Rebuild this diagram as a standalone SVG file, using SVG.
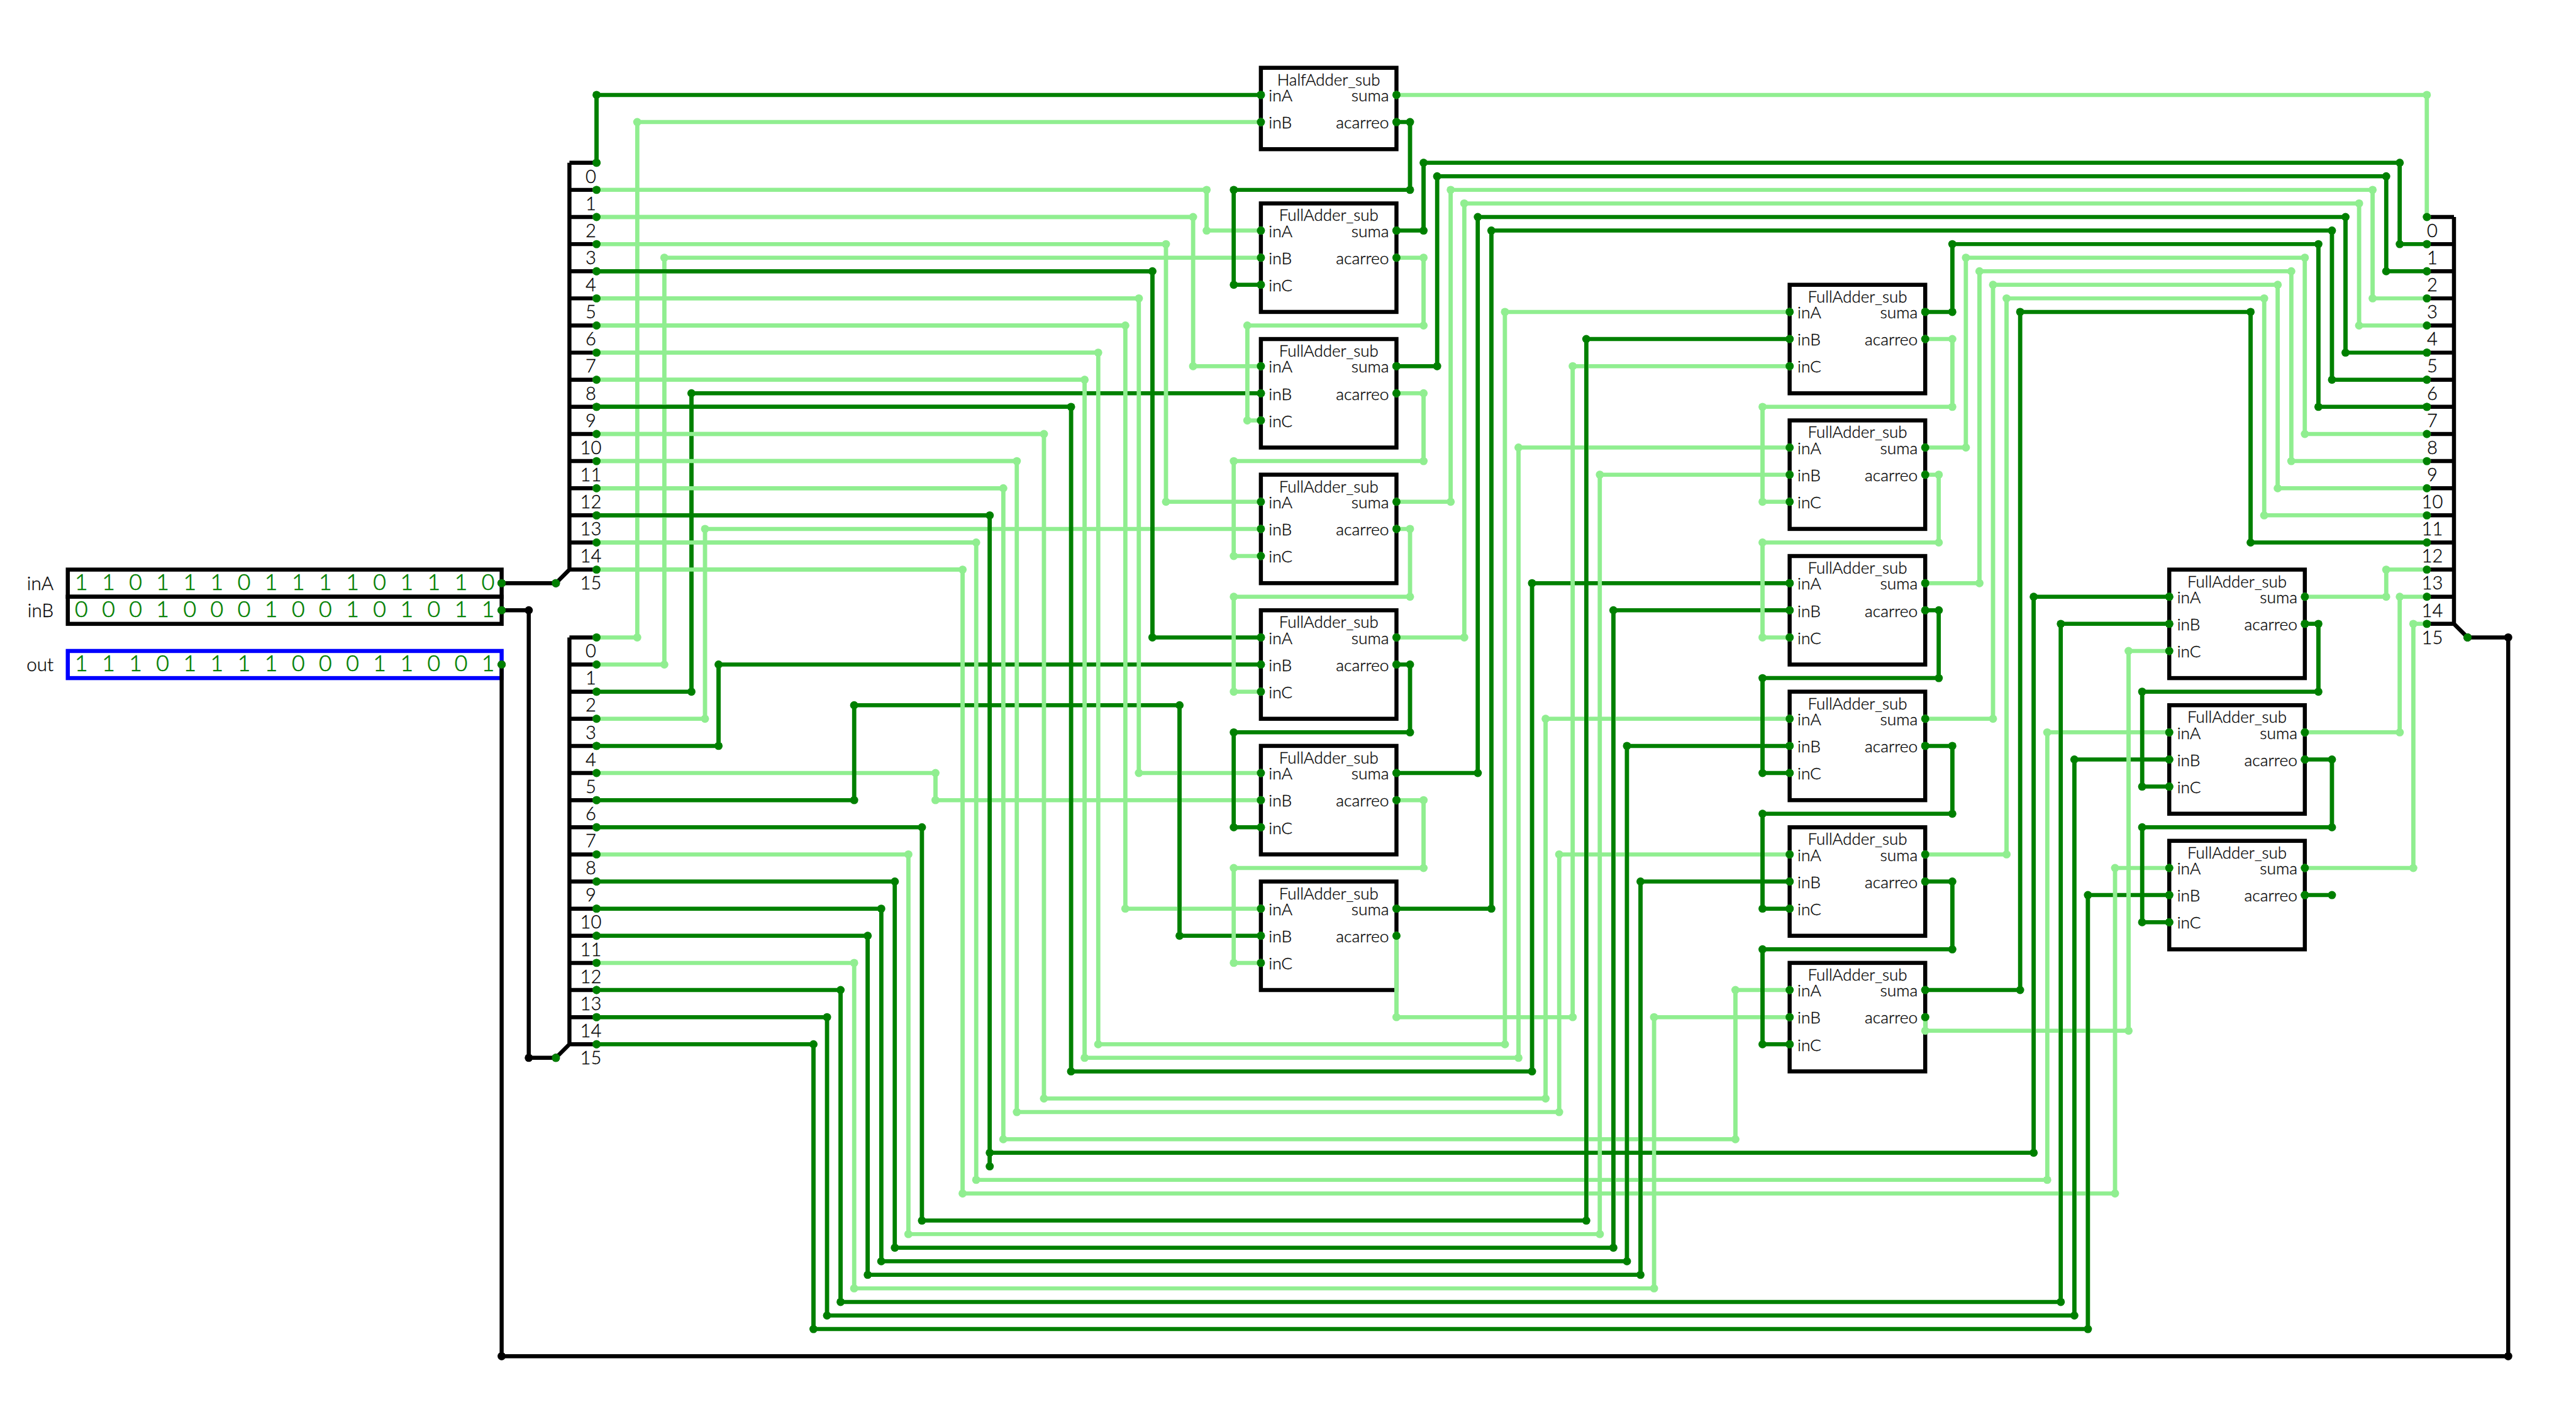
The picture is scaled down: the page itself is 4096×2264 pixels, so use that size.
<svg xmlns="http://www.w3.org/2000/svg" width="4096" height="2264" viewBox="0 0 4096 2264">
<style>
.bg{fill:#fff}
.box{fill:#fff;stroke:#000;stroke-width:12}
.blue{fill:#fff;stroke:#00f;stroke-width:12}
.sp{fill:none;stroke:#000;stroke-width:12}
.t{font-family:"Lato","Open Sans",sans-serif;font-weight:300;fill:#000;stroke:#000;stroke-width:.6px;font-size:49px}
.h{text-anchor:middle;font-size:48px}
.r{text-anchor:end}
.big{font-size:55px}
.n{text-anchor:middle;font-size:54px}
.v{font-family:"Lato","Open Sans",sans-serif;font-weight:300;fill:#008000;stroke:#008000;stroke-width:1.2px;font-size:66px;text-anchor:middle}
.w{fill:none;stroke-width:12}
.d{stroke:#008000;marker-start:url(#md);marker-mid:url(#md);marker-end:url(#md)}
.l{stroke:#90ee90;marker-start:url(#ml);marker-mid:url(#ml);marker-end:url(#ml)}
.k{stroke:#000;marker-start:url(#mk);marker-mid:url(#mk);marker-end:url(#mk)}
.od{fill:none;stroke-width:12;stroke:#008000}
.ol{fill:none;stroke-width:12;stroke:#90ee90}
.p{fill:#008000}
</style>
<defs>
<marker id="md" markerUnits="userSpaceOnUse" markerWidth="24" markerHeight="24" refX="12" refY="12" overflow="visible"><circle cx="12" cy="12" r="12" fill="#008000"/></marker>
<marker id="ml" markerUnits="userSpaceOnUse" markerWidth="24" markerHeight="24" refX="12" refY="12" overflow="visible"><circle cx="12" cy="12" r="12" fill="#90ee90"/></marker>
<marker id="mk" markerUnits="userSpaceOnUse" markerWidth="24" markerHeight="24" refX="12" refY="12" overflow="visible"><circle cx="12" cy="12" r="12" fill="#000"/></marker>
</defs>
<rect class="bg" width="4096" height="2264"/>
<g transform="scale(0.538947,0.539048)">
<g id="reg_inA"><rect class="box" x="200" y="1680" width="1280" height="80"/><text class="t big r" x="158" y="1740">inA</text><text class="v" x="240 320 400 480 560 640 720 800 880 960 1040 1120 1200 1280 1360 1440" y="1740">1101110111101110</text></g>
<g id="reg_inB"><rect class="box" x="200" y="1760" width="1280" height="80"/><text class="t big r" x="158" y="1820">inB</text><text class="v" x="240 320 400 480 560 640 720 800 880 960 1040 1120 1200 1280 1360 1440" y="1820">0001000100101011</text></g>
<g id="reg_out"><rect class="blue" x="200" y="1920" width="1280" height="80"/><text class="t big r" x="158" y="1980">out</text><text class="v" x="240 320 400 480 560 640 720 800 880 960 1040 1120 1200 1280 1360 1440" y="1980">1110111100011001</text></g>
<g id="split_A"><path class="sp" d="M1680 480H1760M1680 560H1760M1680 640H1760M1680 720H1760M1680 800H1760M1680 880H1760M1680 960H1760M1680 1040H1760M1680 1120H1760M1680 1200H1760M1680 1280H1760M1680 1360H1760M1680 1440H1760M1680 1520H1760M1680 1600H1760M1680 1680H1760M1680 480V1680L1640 1720"/>
<text class="t n" x="1743" y="539">0</text><text class="t n" x="1743" y="619">1</text><text class="t n" x="1743" y="699">2</text><text class="t n" x="1743" y="779">3</text><text class="t n" x="1743" y="859">4</text><text class="t n" x="1743" y="939">5</text><text class="t n" x="1743" y="1019">6</text><text class="t n" x="1743" y="1099">7</text><text class="t n" x="1743" y="1179">8</text><text class="t n" x="1743" y="1259">9</text><text class="t n" x="1743" y="1339">10</text><text class="t n" x="1743" y="1419">11</text><text class="t n" x="1743" y="1499">12</text><text class="t n" x="1743" y="1579">13</text><text class="t n" x="1743" y="1659">14</text><text class="t n" x="1743" y="1739">15</text></g>
<g id="split_B"><path class="sp" d="M1680 1880H1760M1680 1960H1760M1680 2040H1760M1680 2120H1760M1680 2200H1760M1680 2280H1760M1680 2360H1760M1680 2440H1760M1680 2520H1760M1680 2600H1760M1680 2680H1760M1680 2760H1760M1680 2840H1760M1680 2920H1760M1680 3000H1760M1680 3080H1760M1680 1880V3080L1640 3120"/>
<text class="t n" x="1743" y="1939">0</text><text class="t n" x="1743" y="2019">1</text><text class="t n" x="1743" y="2099">2</text><text class="t n" x="1743" y="2179">3</text><text class="t n" x="1743" y="2259">4</text><text class="t n" x="1743" y="2339">5</text><text class="t n" x="1743" y="2419">6</text><text class="t n" x="1743" y="2499">7</text><text class="t n" x="1743" y="2579">8</text><text class="t n" x="1743" y="2659">9</text><text class="t n" x="1743" y="2739">10</text><text class="t n" x="1743" y="2819">11</text><text class="t n" x="1743" y="2899">12</text><text class="t n" x="1743" y="2979">13</text><text class="t n" x="1743" y="3059">14</text><text class="t n" x="1743" y="3139">15</text></g>
<g id="split_out"><path class="sp" d="M7160 640H7240M7160 720H7240M7160 800H7240M7160 880H7240M7160 960H7240M7160 1040H7240M7160 1120H7240M7160 1200H7240M7160 1280H7240M7160 1360H7240M7160 1440H7240M7160 1520H7240M7160 1600H7240M7160 1680H7240M7160 1760H7240M7160 1840H7240M7240 640V1840L7280 1880"/>
<text class="t n" x="7176" y="699">0</text><text class="t n" x="7176" y="779">1</text><text class="t n" x="7176" y="859">2</text><text class="t n" x="7176" y="939">3</text><text class="t n" x="7176" y="1019">4</text><text class="t n" x="7176" y="1099">5</text><text class="t n" x="7176" y="1179">6</text><text class="t n" x="7176" y="1259">7</text><text class="t n" x="7176" y="1339">8</text><text class="t n" x="7176" y="1419">9</text><text class="t n" x="7176" y="1499">10</text><text class="t n" x="7176" y="1579">11</text><text class="t n" x="7176" y="1659">12</text><text class="t n" x="7176" y="1739">13</text><text class="t n" x="7176" y="1819">14</text><text class="t n" x="7176" y="1899">15</text></g>

<g id="ha0" transform="translate(3720,200)"><rect class="box" width="400" height="240"/><text class="t h" x="200" y="52">HalfAdder_sub</text><text class="t" x="23" y="99">inA</text><text class="t" x="23" y="179">inB</text><text class="t r" x="378" y="99">suma</text><text class="t r" x="378" y="179">acarreo</text></g>
<g id="fa1" transform="translate(3720,600)"><rect class="box" width="400" height="320"/><text class="t h" x="200" y="52">FullAdder_sub</text><text class="t" x="23" y="99">inA</text><text class="t" x="23" y="179">inB</text><text class="t" x="23" y="259">inC</text><text class="t r" x="378" y="99">suma</text><text class="t r" x="378" y="179">acarreo</text></g>
<g id="fa2" transform="translate(3720,1000)"><rect class="box" width="400" height="320"/><text class="t h" x="200" y="52">FullAdder_sub</text><text class="t" x="23" y="99">inA</text><text class="t" x="23" y="179">inB</text><text class="t" x="23" y="259">inC</text><text class="t r" x="378" y="99">suma</text><text class="t r" x="378" y="179">acarreo</text></g>
<g id="fa3" transform="translate(3720,1400)"><rect class="box" width="400" height="320"/><text class="t h" x="200" y="52">FullAdder_sub</text><text class="t" x="23" y="99">inA</text><text class="t" x="23" y="179">inB</text><text class="t" x="23" y="259">inC</text><text class="t r" x="378" y="99">suma</text><text class="t r" x="378" y="179">acarreo</text></g>
<g id="fa4" transform="translate(3720,1800)"><rect class="box" width="400" height="320"/><text class="t h" x="200" y="52">FullAdder_sub</text><text class="t" x="23" y="99">inA</text><text class="t" x="23" y="179">inB</text><text class="t" x="23" y="259">inC</text><text class="t r" x="378" y="99">suma</text><text class="t r" x="378" y="179">acarreo</text></g>
<g id="fa5" transform="translate(3720,2200)"><rect class="box" width="400" height="320"/><text class="t h" x="200" y="52">FullAdder_sub</text><text class="t" x="23" y="99">inA</text><text class="t" x="23" y="179">inB</text><text class="t" x="23" y="259">inC</text><text class="t r" x="378" y="99">suma</text><text class="t r" x="378" y="179">acarreo</text></g>
<g id="fa6" transform="translate(3720,2600)"><rect class="box" width="400" height="320"/><text class="t h" x="200" y="52">FullAdder_sub</text><text class="t" x="23" y="99">inA</text><text class="t" x="23" y="179">inB</text><text class="t" x="23" y="259">inC</text><text class="t r" x="378" y="99">suma</text><text class="t r" x="378" y="179">acarreo</text></g>
<g id="fa7" transform="translate(5280,840)"><rect class="box" width="400" height="320"/><text class="t h" x="200" y="52">FullAdder_sub</text><text class="t" x="23" y="99">inA</text><text class="t" x="23" y="179">inB</text><text class="t" x="23" y="259">inC</text><text class="t r" x="378" y="99">suma</text><text class="t r" x="378" y="179">acarreo</text></g>
<g id="fa8" transform="translate(5280,1240)"><rect class="box" width="400" height="320"/><text class="t h" x="200" y="52">FullAdder_sub</text><text class="t" x="23" y="99">inA</text><text class="t" x="23" y="179">inB</text><text class="t" x="23" y="259">inC</text><text class="t r" x="378" y="99">suma</text><text class="t r" x="378" y="179">acarreo</text></g>
<g id="fa9" transform="translate(5280,1640)"><rect class="box" width="400" height="320"/><text class="t h" x="200" y="52">FullAdder_sub</text><text class="t" x="23" y="99">inA</text><text class="t" x="23" y="179">inB</text><text class="t" x="23" y="259">inC</text><text class="t r" x="378" y="99">suma</text><text class="t r" x="378" y="179">acarreo</text></g>
<g id="fa10" transform="translate(5280,2040)"><rect class="box" width="400" height="320"/><text class="t h" x="200" y="52">FullAdder_sub</text><text class="t" x="23" y="99">inA</text><text class="t" x="23" y="179">inB</text><text class="t" x="23" y="259">inC</text><text class="t r" x="378" y="99">suma</text><text class="t r" x="378" y="179">acarreo</text></g>
<g id="fa11" transform="translate(5280,2440)"><rect class="box" width="400" height="320"/><text class="t h" x="200" y="52">FullAdder_sub</text><text class="t" x="23" y="99">inA</text><text class="t" x="23" y="179">inB</text><text class="t" x="23" y="259">inC</text><text class="t r" x="378" y="99">suma</text><text class="t r" x="378" y="179">acarreo</text></g>
<g id="fa12" transform="translate(5280,2840)"><rect class="box" width="400" height="320"/><text class="t h" x="200" y="52">FullAdder_sub</text><text class="t" x="23" y="99">inA</text><text class="t" x="23" y="179">inB</text><text class="t" x="23" y="259">inC</text><text class="t r" x="378" y="99">suma</text><text class="t r" x="378" y="179">acarreo</text></g>
<g id="fa13" transform="translate(6400,1680)"><rect class="box" width="400" height="320"/><text class="t h" x="200" y="52">FullAdder_sub</text><text class="t" x="23" y="99">inA</text><text class="t" x="23" y="179">inB</text><text class="t" x="23" y="259">inC</text><text class="t r" x="378" y="99">suma</text><text class="t r" x="378" y="179">acarreo</text></g>
<g id="fa14" transform="translate(6400,2080)"><rect class="box" width="400" height="320"/><text class="t h" x="200" y="52">FullAdder_sub</text><text class="t" x="23" y="99">inA</text><text class="t" x="23" y="179">inB</text><text class="t" x="23" y="259">inC</text><text class="t r" x="378" y="99">suma</text><text class="t r" x="378" y="179">acarreo</text></g>
<g id="fa15" transform="translate(6400,2480)"><rect class="box" width="400" height="320"/><text class="t h" x="200" y="52">FullAdder_sub</text><text class="t" x="23" y="99">inA</text><text class="t" x="23" y="179">inB</text><text class="t" x="23" y="259">inC</text><text class="t r" x="378" y="99">suma</text><text class="t r" x="378" y="179">acarreo</text></g>

<g id="connectors">
<polyline class="w k" points="1480,1720 1640,1720"/>
<polyline class="w k" points="1480,1800 1560,1800 1560,3120 1640,3120"/>
<polyline class="w k" points="7280,1880 7400,1880 7400,4000 1480,4000 1480,1960"/>
<polyline class="w l" points="1760,1880 1880,1880 1880,360 3720,360"/>
<polyline class="w l" points="1760,1960 1960,1960 1960,760 3720,760"/>
<polyline class="w d" points="1760,2040 2040,2040 2040,1160 3720,1160"/>
<polyline class="w l" points="1760,2120 2080,2120 2080,1560 3720,1560"/>
<polyline class="w d" points="1760,2200 2120,2200 2120,1960 3720,1960"/>
<polyline class="w l" points="1760,2280 2760,2280 2760,2360 3720,2360"/>
<polyline class="w d" points="1760,2360 2520,2360 2520,2080 3480,2080 3480,2760 3720,2760"/>
<polyline class="w d" points="1760,2440 2720,2440 2720,3600 4680,3600 4680,1000 5280,1000"/>
<polyline class="w l" points="1760,2520 2680,2520 2680,3640 4720,3640 4720,1400 5280,1400"/>
<polyline class="w d" points="1760,2600 2640,2600 2640,3680 4760,3680 4760,1800 5280,1800"/>
<polyline class="w d" points="1760,2680 2600,2680 2600,3720 4800,3720 4800,2200 5280,2200"/>
<polyline class="w d" points="1760,2760 2560,2760 2560,3760 4840,3760 4840,2600 5280,2600"/>
<polyline class="w l" points="1760,2840 2520,2840 2520,3800 4880,3800 4880,3000 5280,3000"/>
<polyline class="w d" points="1760,2920 2480,2920 2480,3840 6080,3840 6080,1840 6400,1840"/>
<polyline class="w d" points="1760,3000 2440,3000 2440,3880 6120,3880 6120,2240 6400,2240"/>
<polyline class="w d" points="1760,3080 2400,3080 2400,3920 6160,3920 6160,2640 6400,2640"/>
<polyline class="w d" points="1760,480 1760,280 3720,280"/>
<polyline class="w l" points="1760,560 3560,560 3560,680 3720,680"/>
<polyline class="w l" points="1760,640 3520,640 3520,1080 3720,1080"/>
<polyline class="w l" points="1760,720 3440,720 3440,1480 3720,1480"/>
<polyline class="w d" points="1760,800 3400,800 3400,1880 3720,1880"/>
<polyline class="w l" points="1760,880 3360,880 3360,2280 3720,2280"/>
<polyline class="w l" points="1760,960 3320,960 3320,2680 3720,2680"/>
<polyline class="w l" points="1760,1040 3240,1040 3240,3080 4440,3080 4440,920 5280,920"/>
<polyline class="w l" points="1760,1120 3200,1120 3200,3120 4480,3120 4480,1320 5280,1320"/>
<polyline class="w d" points="1760,1200 3160,1200 3160,3160 4520,3160 4520,1720 5280,1720"/>
<polyline class="w l" points="1760,1280 3080,1280 3080,3240 4560,3240 4560,2120 5280,2120"/>
<polyline class="w l" points="1760,1360 3000,1360 3000,3280 4600,3280 4600,2520 5280,2520"/>
<polyline class="w l" points="1760,1440 2960,1440 2960,3360 5120,3360 5120,2920 5280,2920"/>
<polyline class="w d" points="1760,1520 2920,1520 2920,3440"/>
<polyline class="w d" points="2920,3400 6000,3400 6000,1760 6400,1760"/>
<polyline class="w l" points="1760,1600 2880,1600 2880,3480 6040,3480 6040,2160 6400,2160"/>
<polyline class="w l" points="1760,1680 2840,1680 2840,3520 6240,3520 6240,2560 6400,2560"/>
<polyline class="w l" points="4120,280 7160,280 7160,640"/>
<polyline class="w d" points="4120,360 4160,360 4160,560 3640,560 3640,840 3720,840"/>
<polyline class="w d" points="4120,680 4200,680 4200,480 7080,480 7080,720 7160,720"/>
<polyline class="w l" points="4120,760 4200,760 4200,960 3680,960 3680,1240 3720,1240"/>
<polyline class="w d" points="4120,1080 4240,1080 4240,520 7040,520 7040,800 7160,800"/>
<polyline class="w l" points="4120,1160 4200,1160 4200,1360 3640,1360 3640,1640 3720,1640"/>
<polyline class="w l" points="4120,1480 4280,1480 4280,560 7000,560 7000,880 7160,880"/>
<polyline class="w l" points="4120,1560 4160,1560 4160,1760 3640,1760 3640,2040 3720,2040"/>
<polyline class="w l" points="4120,1880 4320,1880 4320,600 6960,600 6960,960 7160,960"/>
<polyline class="w d" points="4120,1960 4160,1960 4160,2160 3640,2160 3640,2440 3720,2440"/>
<polyline class="w d" points="4120,2280 4360,2280 4360,640 6920,640 6920,1040 7160,1040"/>
<polyline class="w l" points="4120,2360 4200,2360 4200,2560 3640,2560 3640,2840 3720,2840"/>
<polyline class="w d" points="4120,2680 4400,2680 4400,680 6880,680 6880,1120 7160,1120"/>
<polyline class="w l" points="4120,2760 4120,3000 4640,3000 4640,1080 5280,1080"/>
<polyline class="w d" points="5680,920 5760,920 5760,720 6840,720 6840,1200 7160,1200"/>
<polyline class="w l" points="5680,1000 5760,1000 5760,1200 5200,1200 5200,1480 5280,1480"/>
<polyline class="w l" points="5680,1320 5800,1320 5800,760 6800,760 6800,1280 7160,1280"/>
<polyline class="w l" points="5680,1400 5720,1400 5720,1600 5200,1600 5200,1880 5280,1880"/>
<polyline class="w l" points="5680,1720 5840,1720 5840,800 6760,800 6760,1360 7160,1360"/>
<polyline class="w d" points="5680,1800 5720,1800 5720,2000 5200,2000 5200,2280 5280,2280"/>
<polyline class="w l" points="5680,2120 5880,2120 5880,840 6720,840 6720,1440 7160,1440"/>
<polyline class="w d" points="5680,2200 5760,2200 5760,2400 5200,2400 5200,2680 5280,2680"/>
<polyline class="w l" points="5680,2520 5920,2520 5920,880 6680,880 6680,1520 7160,1520"/>
<polyline class="w d" points="5680,2600 5760,2600 5760,2800 5200,2800 5200,3080 5280,3080"/>
<polyline class="w d" points="5680,2920 5960,2920 5960,920 6640,920 6640,1600 7160,1600"/>
<polyline class="w l" points="5680,3000 5680,3040 6280,3040 6280,1920 6400,1920"/>
<polyline class="w l" points="6800,1760 7040,1760 7040,1680 7160,1680"/>
<polyline class="w d" points="6800,1840 6840,1840 6840,2040 6320,2040 6320,2320 6400,2320"/>
<polyline class="w l" points="6800,2160 7080,2160 7080,1760 7160,1760"/>
<polyline class="w d" points="6800,2240 6880,2240 6880,2440 6320,2440 6320,2720 6400,2720"/>
<polyline class="w l" points="6800,2560 7120,2560 7120,1840 7160,1840"/>
<polyline class="w d" points="6800,2640 6880,2640"/>
<path class="ol" d="M1880 360V1880M1960 760V1960M2080 1560V2120M2760 2280V2360M2680 2520V3640M4720 1400V3640M2520 2840V3800M4880 3000V3800M3560 560V680M3520 640V1080M3440 720V1480M3360 880V2280M3320 960V2680M3240 1040V3080M4440 920V3080M3200 1120V3120M4480 1320V3120M3080 1280V3240M4560 2120V3240M3000 1360V3280M4600 2520V3280M2960 1440V3360M5120 2920V3360M2880 1600V3480M6040 2160V3480M2840 1680V3520M6240 2560V3520M7160 280V640M3680 960V1240M4200 760V960M3640 1360V1640M4200 1160V1360M4280 560V1480M7000 560V880M3640 1760V2040M4160 1560V1760M4320 600V1880M6960 600V960M3640 2560V2840M4200 2360V2560M4120 2760V3000M4640 1080V3000M5760 1000V1200M5200 1200V1480M5800 760V1320M6800 760V1280M5720 1400V1600M5200 1600V1880M5840 800V1720M6760 800V1360M5880 840V2120M6720 840V1440M5920 880V2520M6680 880V1520M5680 3000V3040M6280 1920V3040M7040 1680V1760M7080 1760V2160M7120 1840V2560"/>
<path class="od" d="M2040 1160V2040M2120 1960V2200M2520 2080V2360M3480 2080V2760M2720 2440V3600M4680 1000V3600M2640 2600V3680M4760 1800V3680M2600 2680V3720M4800 2200V3720M2560 2760V3760M4840 2600V3760M2480 2920V3840M6080 1840V3840M2440 3000V3880M6120 2240V3880M2400 3080V3920M6160 2640V3920M1760 280V480M3400 800V1880M3160 1200V3160M4520 1720V3160M2920 1520V3440M6000 1760V3400M3640 560V840M4160 360V560M4200 480V680M7080 480V720M4240 520V1080M7040 520V800M4160 1960V2160M3640 2160V2440M4360 640V2280M6920 640V1040M4400 680V2680M6880 680V1120M5760 720V920M6840 720V1200M5720 1800V2000M5200 2000V2280M5760 2200V2400M5200 2400V2680M5760 2600V2800M5200 2800V3080M5960 920V2920M6640 920V1600M6840 1840V2040M6320 2040V2320M6880 2240V2440M6320 2440V2720"/>
<path class="ol" d="M1760 560H3560M1760 640H3520M1760 720H3440M1760 880H3360M1760 960H3320M1760 1040H3240M1760 1120H3200M1760 1280H3080M1760 1360H3000M1760 1440H2960M1760 1600H2880M1760 1680H2840"/>
<path class="od" d="M1760 800H3400M1760 1200H3160M1760 1520H2920"/>
</g>

<g id="pins" class="p">
<circle r="12" cx="1480" cy="1720"/><circle r="12" cx="1480" cy="1800"/><circle r="12" cx="1480" cy="1960"/><circle r="12" cx="1640" cy="1720"/><circle r="12" cx="1640" cy="3120"/><circle r="12" cx="7280" cy="1880"/>
<circle r="12" cx="1760" cy="480"/><circle r="12" cx="1760" cy="560"/><circle r="12" cx="1760" cy="640"/><circle r="12" cx="1760" cy="720"/><circle r="12" cx="1760" cy="800"/><circle r="12" cx="1760" cy="880"/><circle r="12" cx="1760" cy="960"/><circle r="12" cx="1760" cy="1040"/><circle r="12" cx="1760" cy="1120"/><circle r="12" cx="1760" cy="1200"/><circle r="12" cx="1760" cy="1280"/><circle r="12" cx="1760" cy="1360"/><circle r="12" cx="1760" cy="1440"/><circle r="12" cx="1760" cy="1520"/><circle r="12" cx="1760" cy="1600"/><circle r="12" cx="1760" cy="1680"/>
<circle r="12" cx="1760" cy="1880"/><circle r="12" cx="1760" cy="1960"/><circle r="12" cx="1760" cy="2040"/><circle r="12" cx="1760" cy="2120"/><circle r="12" cx="1760" cy="2200"/><circle r="12" cx="1760" cy="2280"/><circle r="12" cx="1760" cy="2360"/><circle r="12" cx="1760" cy="2440"/><circle r="12" cx="1760" cy="2520"/><circle r="12" cx="1760" cy="2600"/><circle r="12" cx="1760" cy="2680"/><circle r="12" cx="1760" cy="2760"/><circle r="12" cx="1760" cy="2840"/><circle r="12" cx="1760" cy="2920"/><circle r="12" cx="1760" cy="3000"/><circle r="12" cx="1760" cy="3080"/>
<circle r="12" cx="7160" cy="640"/><circle r="12" cx="7160" cy="720"/><circle r="12" cx="7160" cy="800"/><circle r="12" cx="7160" cy="880"/><circle r="12" cx="7160" cy="960"/><circle r="12" cx="7160" cy="1040"/><circle r="12" cx="7160" cy="1120"/><circle r="12" cx="7160" cy="1200"/><circle r="12" cx="7160" cy="1280"/><circle r="12" cx="7160" cy="1360"/><circle r="12" cx="7160" cy="1440"/><circle r="12" cx="7160" cy="1520"/><circle r="12" cx="7160" cy="1600"/><circle r="12" cx="7160" cy="1680"/><circle r="12" cx="7160" cy="1760"/><circle r="12" cx="7160" cy="1840"/>
<circle r="12" cx="3720" cy="280"/><circle r="12" cx="3720" cy="360"/><circle r="12" cx="4120" cy="280"/><circle r="12" cx="4120" cy="360"/>
<circle r="12" cx="3720" cy="680"/><circle r="12" cx="3720" cy="760"/><circle r="12" cx="3720" cy="840"/><circle r="12" cx="4120" cy="680"/><circle r="12" cx="4120" cy="760"/>
<circle r="12" cx="3720" cy="1080"/><circle r="12" cx="3720" cy="1160"/><circle r="12" cx="3720" cy="1240"/><circle r="12" cx="4120" cy="1080"/><circle r="12" cx="4120" cy="1160"/>
<circle r="12" cx="3720" cy="1480"/><circle r="12" cx="3720" cy="1560"/><circle r="12" cx="3720" cy="1640"/><circle r="12" cx="4120" cy="1480"/><circle r="12" cx="4120" cy="1560"/>
<circle r="12" cx="3720" cy="1880"/><circle r="12" cx="3720" cy="1960"/><circle r="12" cx="3720" cy="2040"/><circle r="12" cx="4120" cy="1880"/><circle r="12" cx="4120" cy="1960"/>
<circle r="12" cx="3720" cy="2280"/><circle r="12" cx="3720" cy="2360"/><circle r="12" cx="3720" cy="2440"/><circle r="12" cx="4120" cy="2280"/><circle r="12" cx="4120" cy="2360"/>
<circle r="12" cx="3720" cy="2680"/><circle r="12" cx="3720" cy="2760"/><circle r="12" cx="3720" cy="2840"/><circle r="12" cx="4120" cy="2680"/><circle r="12" cx="4120" cy="2760"/>
<circle r="12" cx="5280" cy="920"/><circle r="12" cx="5280" cy="1000"/><circle r="12" cx="5280" cy="1080"/><circle r="12" cx="5680" cy="920"/><circle r="12" cx="5680" cy="1000"/>
<circle r="12" cx="5280" cy="1320"/><circle r="12" cx="5280" cy="1400"/><circle r="12" cx="5280" cy="1480"/><circle r="12" cx="5680" cy="1320"/><circle r="12" cx="5680" cy="1400"/>
<circle r="12" cx="5280" cy="1720"/><circle r="12" cx="5280" cy="1800"/><circle r="12" cx="5280" cy="1880"/><circle r="12" cx="5680" cy="1720"/><circle r="12" cx="5680" cy="1800"/>
<circle r="12" cx="5280" cy="2120"/><circle r="12" cx="5280" cy="2200"/><circle r="12" cx="5280" cy="2280"/><circle r="12" cx="5680" cy="2120"/><circle r="12" cx="5680" cy="2200"/>
<circle r="12" cx="5280" cy="2520"/><circle r="12" cx="5280" cy="2600"/><circle r="12" cx="5280" cy="2680"/><circle r="12" cx="5680" cy="2520"/><circle r="12" cx="5680" cy="2600"/>
<circle r="12" cx="5280" cy="2920"/><circle r="12" cx="5280" cy="3000"/><circle r="12" cx="5280" cy="3080"/><circle r="12" cx="5680" cy="2920"/><circle r="12" cx="5680" cy="3000"/>
<circle r="12" cx="6400" cy="1760"/><circle r="12" cx="6400" cy="1840"/><circle r="12" cx="6400" cy="1920"/><circle r="12" cx="6800" cy="1760"/><circle r="12" cx="6800" cy="1840"/>
<circle r="12" cx="6400" cy="2160"/><circle r="12" cx="6400" cy="2240"/><circle r="12" cx="6400" cy="2320"/><circle r="12" cx="6800" cy="2160"/><circle r="12" cx="6800" cy="2240"/>
<circle r="12" cx="6400" cy="2560"/><circle r="12" cx="6400" cy="2640"/><circle r="12" cx="6400" cy="2720"/><circle r="12" cx="6800" cy="2560"/><circle r="12" cx="6800" cy="2640"/>
</g>
</g>
</svg>
